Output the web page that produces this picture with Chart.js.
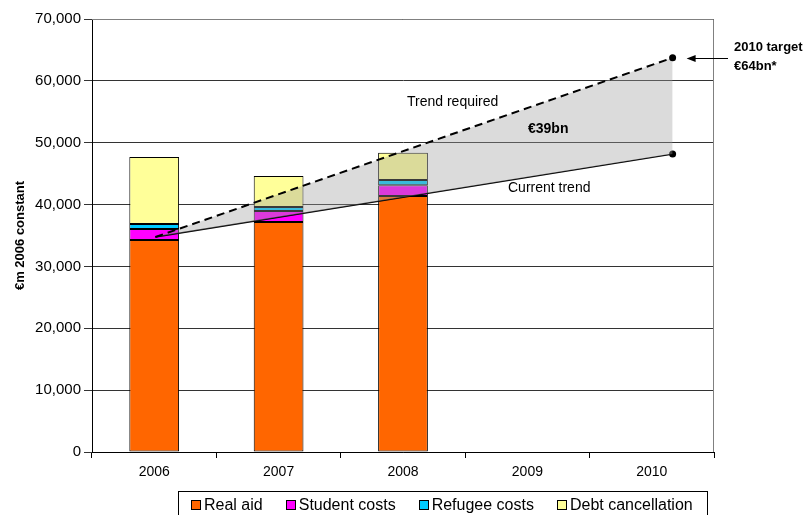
<!DOCTYPE html>
<html>
<head>
<meta charset="utf-8">
<script src="https://cdn.jsdelivr.net/npm/chart.js@4"></script>
<style>
  body { margin: 0; background: #fff; }
  #wrap { position: relative; width: 809px; height: 515px; overflow: hidden; }
  #legend {
    position: absolute; left: 178px; top: 491px; width: 516px; height: 26px;
    border: 1px solid #000; display: flex; align-items: center; gap: 23px;
    padding-left: 12px; box-sizing: content-box;
    font: 16px "Liberation Sans", Arial, sans-serif; color: #000;
  }
  #legend span.item { display: flex; align-items: center; white-space: nowrap; }
  #legend i { display: inline-block; width: 8px; height: 8px; border: 1px solid #000; margin-right: 3px; }
</style>
</head>
<body>
<div id="wrap">
  <canvas id="chart"></canvas>
  <div id="legend"></div>
</div>
<script>
// categories + bar series (EUR m, 2006 constant)
const years = ["2006", "2007", "2008", "2009", "2010"]
const realAid = [34270, 37180, 41380, null, null]
const studentCosts = [1780, 1780, 1730, null, null]
const refugeeCosts = [810, 640, 860, null, null]
const debtCancellation = [10830, 5020, 4410, null, null]

// trend lines, 2006 -> 2010
const trendYears = [2006, 2010]
const trendRequired = [34760, 63740]
const currentTrend = [34760, 48170]

const yTicks = [0, 10000, 20000, 30000, 40000, 50000, 60000, 70000]

const seriesNames = ["Real aid", "Student costs", "Refugee costs", "Debt cancellation"]
const seriesColors = ["#FF6600", "#FF00FF", "#00CCFF", "#FFFF99"]
const seriesData = [realAid, studentCosts, refugeeCosts, debtCancellation]

const FONT = "'Liberation Sans', Arial, sans-serif"

// html legend, built from the series arrays
const legendEl = document.getElementById("legend")
seriesNames.forEach((name, i) => {
  const item = document.createElement("span")
  item.className = "item"
  item.innerHTML = `<i style="background:${seriesColors[i]}"></i>${name}`
  legendEl.appendChild(item)
})

const barSets = seriesNames.map((name, i) => ({
  type: "bar",
  label: name,
  data: seriesData[i],
  stack: "aid",
  grouped: false,
  backgroundColor: seriesColors[i],
  borderColor: "#000",
  borderWidth: 1,
  borderSkipped: false,
  categoryPercentage: 1,
  barPercentage: 0.4,
  order: 1,
}))

const toPoints = (vals) => trendYears.map((x, i) => ({ x, y: vals[i] }))

const lineSets = [
  {
    type: "line",
    label: "Trend required",
    data: toPoints(trendRequired),
    xAxisID: "x2",
    stack: "req",
    borderColor: "#000",
    borderWidth: 2,
    borderDash: [8, 5],
    pointRadius: [0, 3.5],
    pointBackgroundColor: "#000",
    pointBorderWidth: 0,
    fill: { target: "+1", above: "rgba(156,156,156,0.37)", below: "rgba(156,156,156,0.37)" },
    order: 0,
  },
  {
    type: "line",
    label: "Current trend",
    data: toPoints(currentTrend),
    xAxisID: "x2",
    stack: "cur",
    borderColor: "#000",
    borderWidth: 1.3,
    pointRadius: [0, 3.5],
    pointBackgroundColor: "#000",
    pointBorderWidth: 0,
    fill: false,
    order: 0,
  },
]

// plot area frame (grey, excel style)
const frame = {
  id: "frame",
  beforeDatasetsDraw(chart) {
    const { ctx, chartArea: a } = chart
    ctx.save()
    ctx.strokeStyle = "#808080"
    ctx.lineWidth = 1
    ctx.beginPath()
    ctx.moveTo(a.left, a.top + 0.5)
    ctx.lineTo(a.right - 0.5, a.top + 0.5)
    ctx.lineTo(a.right - 0.5, a.bottom)
    ctx.stroke()
    ctx.restore()
  },
}

// text labels + arrow to the 2010 target
const notes = {
  id: "notes",
  afterDatasetsDraw(chart) {
    const { ctx } = chart
    const x2 = chart.scales.x2, y = chart.scales.y
    ctx.save()
    ctx.fillStyle = "#000"
    ctx.textBaseline = "middle"
    ctx.textAlign = "left"
    ctx.font = `14px ${FONT}`
    ctx.fillText("Trend required", 407, 102)
    ctx.fillText("Current trend", 508, 188)
    ctx.font = `bold 14px ${FONT}`
    ctx.fillText("€39bn", 528, 129)
    ctx.font = `bold 13px ${FONT}`
    ctx.fillText("2010 target", 734, 47)
    ctx.fillText("€64bn*", 734, 66)

    const tx = x2.getPixelForValue(2010) + 14
    const ty = Math.round(y.getPixelForValue(trendRequired[1])) + 0.5
    ctx.strokeStyle = "#000"
    ctx.lineWidth = 1
    ctx.beginPath()
    ctx.moveTo(728, ty)
    ctx.lineTo(tx + 6, ty)
    ctx.stroke()
    ctx.beginPath()
    ctx.moveTo(tx, ty)
    ctx.lineTo(tx + 9, ty - 3.5)
    ctx.lineTo(tx + 9, ty + 3.5)
    ctx.closePath()
    ctx.fill()
    ctx.restore()
  },
}

new Chart(document.getElementById("chart"), {
  data: { labels: years, datasets: [...lineSets, ...barSets] },
  plugins: [frame, notes],
  options: {
    responsive: true,
    maintainAspectRatio: false,
    animation: false,
    layout: { padding: { left: 0, right: 95, top: 19, bottom: 33 } },
    plugins: {
      legend: { display: false },
      tooltip: { enabled: false },
    },
    scales: {
      x: {
        stacked: true,
        offset: true,
        grid: { offset: true, drawOnChartArea: false, drawTicks: true, tickLength: 6, color: "#000" },
        border: { color: "#000" },
        ticks: { color: "#000", padding: 6, font: { family: FONT, size: 14 } },
        afterFit: (s) => { s.height = 30 },
      },
      x2: {
        type: "linear",
        display: false,
        min: 2005.51,
        max: 2010.32,
      },
      y: {
        stacked: true,
        min: 0,
        max: 70000,
        afterBuildTicks: (s) => { s.ticks = yTicks.map(v => ({ value: v })) },
        grid: { color: "#333", tickLength: 8 },
        border: { color: "#000" },
        ticks: {
          color: "#000",
          padding: 3,
          font: { family: FONT, size: 15 },
          callback: (v) => v.toLocaleString("en-US"),
        },
        title: {
          display: true,
          text: "€m 2006 constant",
          color: "#000",
          padding: { top: 13, bottom: 0 },
          font: { family: FONT, size: 13, weight: "bold" },
        },
        afterFit: (s) => { s.width = 92 },
      },
    },
  },
})
</script>
</body>
</html>
